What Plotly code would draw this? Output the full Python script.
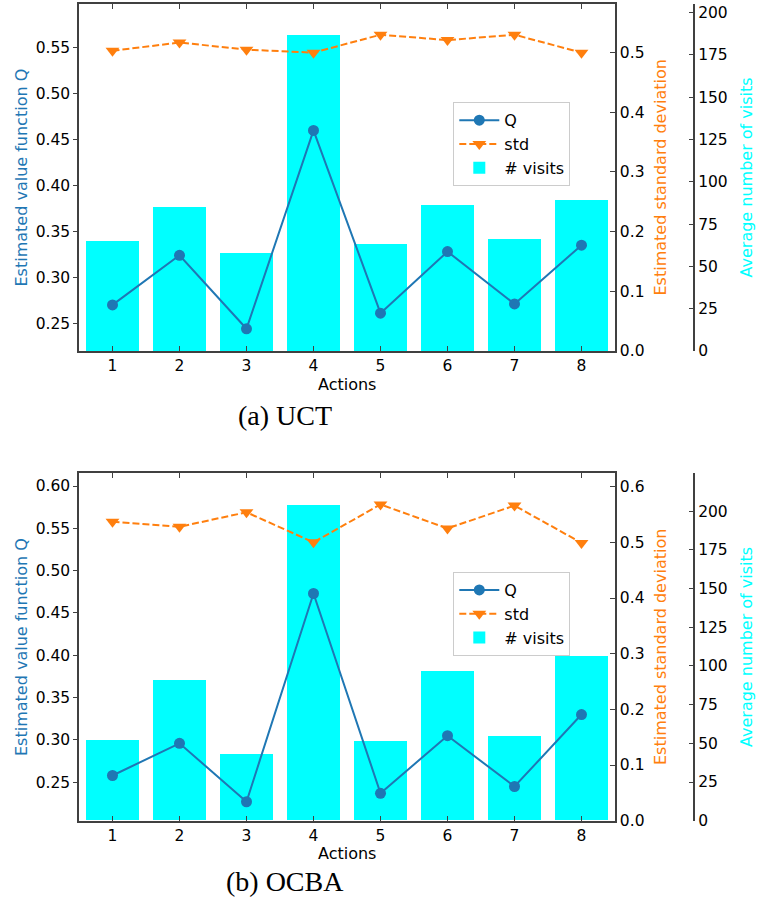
import plotly.graph_objects as go

# Data: actions and per-method estimates
actions = [1, 2, 3, 4, 5, 6, 7, 8]

uct_q = [0.270, 0.324, 0.244, 0.460, 0.261, 0.328, 0.271, 0.335]
uct_std = [0.503, 0.517, 0.505, 0.500, 0.530, 0.521, 0.530, 0.500]
uct_visits = [65, 85, 58, 187, 63, 86.5, 66, 89]

ocba_q = [0.258, 0.296, 0.227, 0.473, 0.237, 0.305, 0.245, 0.330]
ocba_std = [0.537, 0.528, 0.554, 0.500, 0.568, 0.525, 0.566, 0.499]
ocba_visits = [52, 91, 43, 204, 51, 96.5, 54.5, 106]

W, H = 759, 905
C_Q = "#1f77b4"
C_STD = "#ff7f0e"
C_VIS = "#00ffff"
SPINE = "#404040"
FONT = "DejaVu Sans"


def fx(px):
    return px / W


def fy(py):
    return 1 - py / H


def nm(letter, n):
    return letter if n == 1 else f"{letter}{n}"


fig = go.Figure()

x_dom = [fx(79), fx(615)]
vis_pos = fx(694.3)

panels = [
    dict(q=uct_q, std=uct_std, vis=uct_visits, top=4, bottom=351,
         qrange=[0.2198, 0.5976], qticks=[0.25, 0.30, 0.35, 0.40, 0.45, 0.50, 0.55],
         srange=[0, 0.5815], sticks=[0.0, 0.1, 0.2, 0.3, 0.4, 0.5],
         vrange=[0, 205.1], legend="legend", caption="(a) UCT", cap_y=415,
         act_y=384),
    dict(q=ocba_q, std=ocba_std, vis=ocba_visits, top=473.3, bottom=820.7,
         qrange=[0.2046, 0.6150], qticks=[0.25, 0.30, 0.35, 0.40, 0.45, 0.50, 0.55, 0.60],
         srange=[0, 0.624], sticks=[0.0, 0.1, 0.2, 0.3, 0.4, 0.5, 0.6],
         vrange=[0, 224.4], legend="legend2", caption="(b) OCBA", cap_y=881,
         act_y=853),
]

annotations = []
layout_axes = {}
tickfont = dict(family=FONT, size=15.5, color="black")
common = dict(showgrid=False, zeroline=False, automargin=False,
              showline=True, linecolor=SPINE, linewidth=1.5,
              tickwidth=1, tickcolor=SPINE)

for i, p in enumerate(panels):
    xa = 1 + 2 * i          # bottom x axis
    xt = 2 + 2 * i          # top tick-only x axis
    yv = 1 + 3 * i          # visits axis (base)
    yq = 2 + 3 * i          # Q axis
    ys = 3 + 3 * i          # std axis

    y_dom = [fy(p["bottom"]), fy(p["top"])]

    fig.add_trace(go.Bar(
        x=actions, y=p["vis"], width=0.8, name="# visits",
        marker=dict(color=C_VIS, line=dict(width=0)),
        xaxis=nm("x", xa), yaxis=nm("y", yv), legend=p["legend"], legendrank=3,
    ))
    fig.add_trace(go.Scatter(
        x=actions, y=p["q"], name="Q", mode="lines+markers",
        line=dict(color=C_Q, width=2), marker=dict(color=C_Q, size=11, symbol="circle"),
        xaxis=nm("x", xa), yaxis=nm("y", yq), legend=p["legend"], legendrank=1,
    ))
    fig.add_trace(go.Scatter(
        x=actions, y=p["std"], name="std", mode="lines+markers",
        line=dict(color=C_STD, width=2, dash="7px,3px"),
        marker=dict(color=C_STD, size=12, symbol="triangle-down"),
        xaxis=nm("x", xa), yaxis=nm("y", ys), legend=p["legend"], legendrank=2,
    ))
    # empty trace to host the top tick axis
    fig.add_trace(go.Scatter(
        x=[], y=[], showlegend=False, hoverinfo="skip",
        xaxis=nm("x", xt), yaxis=nm("y", yv),
    ))

    layout_axes[nm("xaxis", xa)] = dict(
        common, domain=x_dom, range=[0.5, 8.5], anchor=nm("y", yv),
        tickvals=actions, ticktext=[str(a) for a in actions],
        ticks="inside", ticklen=5, tickfont=tickfont,
    )
    layout_axes[nm("xaxis", xt)] = dict(
        common, domain=x_dom, range=[0.5, 8.5], overlaying=nm("x", xa), side="top",
        anchor=nm("y", yv), tickvals=actions, showticklabels=False,
        ticks="inside", ticklen=5,
    )
    layout_axes[nm("yaxis", yv)] = dict(
        common, domain=y_dom, range=p["vrange"], anchor="free", position=vis_pos, side="right",
        tickvals=[0, 25, 50, 75, 100, 125, 150, 175, 200],
        ticks="inside", ticklen=5, tickfont=tickfont,
    )
    layout_axes[nm("yaxis", yq)] = dict(
        common, domain=y_dom, range=p["qrange"], overlaying=nm("y", yv), anchor=nm("x", xa),
        side="left", tickvals=p["qticks"], tickformat=".2f",
        ticks="outside", ticklen=4, tickfont=tickfont,
    )
    layout_axes[nm("yaxis", ys)] = dict(
        common, domain=y_dom, range=p["srange"], overlaying=nm("y", yv), anchor=nm("x", xa),
        side="right", tickvals=p["sticks"], tickformat=".1f",
        ticks="inside", ticklen=5, tickfont=tickfont,
    )

    mid = (p["top"] + p["bottom"]) / 2
    title_font = dict(family=FONT, size=16)
    annotations += [
        dict(text="Estimated value function Q", x=fx(21), y=fy(mid), textangle=-90,
             font=dict(title_font, color=C_Q)),
        dict(text="Estimated standard deviation", x=fx(660), y=fy(mid), textangle=-90,
             font=dict(title_font, color=C_STD)),
        dict(text="Average number of visits", x=fx(746), y=fy(mid), textangle=-90,
             font=dict(title_font, color=C_VIS)),
        dict(text="Actions", x=fx(347), y=fy(p["act_y"]),
             font=dict(title_font, color="black")),
        dict(text=p["caption"], x=fx(284.5), y=fy(p["cap_y"]),
             font=dict(family="Liberation Serif", size=28, color="black")),
    ]

for a in annotations:
    a.update(xref="paper", yref="paper", showarrow=False, xanchor="center", yanchor="middle")

legend_style = dict(
    xanchor="left", yanchor="top", bgcolor="white", bordercolor="#cccccc", borderwidth=1,
    font=dict(family=FONT, size=16, color="black"), traceorder="normal",
    itemwidth=40, tracegroupgap=0,
)

fig.update_layout(
    template="none",
    width=W, height=H, margin=dict(l=0, r=0, t=0, b=0, autoexpand=False),
    paper_bgcolor="white", plot_bgcolor="white",
    showlegend=True, bargap=0,
    legend=dict(legend_style, x=fx(453.3), y=fy(102.3)),
    legend2=dict(legend_style, x=fx(453.3), y=fy(572)),
    annotations=annotations,
    **layout_axes,
)

fig.write_html("out.html")
